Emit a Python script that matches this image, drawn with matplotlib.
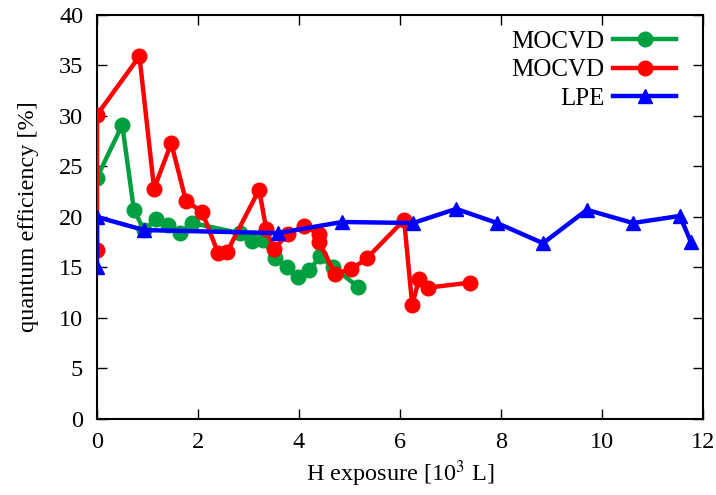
import matplotlib.pyplot as plt

plt.rcParams["font.family"] = ["Liberation Serif", "DejaVu Serif"]
plt.rcParams["mathtext.fontset"] = "stix"

# MOCVD (green)
x_green = [0.0, 0.5, 0.73, 0.93, 1.17, 1.4, 1.64, 1.88, 2.83, 3.07, 3.29,
           3.52, 3.76, 3.98, 4.2, 4.42, 4.67, 5.17]
y_green = [23.9, 29.1, 20.7, 18.7, 19.8, 19.2, 18.4, 19.4, 18.4, 17.6, 17.7,
           15.9, 15.0, 14.1, 14.7, 16.1, 15.0, 13.1]

# MOCVD (red)
x_red = [0.0, 0.0, 0.84, 1.13, 1.47, 1.76, 2.08, 2.4, 2.57, 3.21, 3.35, 3.5,
         3.78, 4.1, 4.4, 4.4, 4.71, 5.03, 5.34, 6.08, 6.24, 6.38, 6.55, 7.39]
y_red = [16.7, 30.1, 35.9, 22.8, 27.3, 21.6, 20.5, 16.4, 16.5, 22.7, 18.8, 16.8,
         18.3, 19.1, 18.3, 17.5, 14.4, 14.8, 15.9, 19.7, 11.3, 13.9, 13.0, 13.5]

# LPE (blue)
x_blue = [0.0, 0.0, 0.93, 3.58, 4.85, 6.26, 7.11, 7.92, 8.83, 9.7, 10.61,
          11.54, 11.76]
y_blue = [15.0, 20.0, 18.7, 18.4, 19.5, 19.4, 20.8, 19.4, 17.4, 20.7, 19.4,
          20.1, 17.5]

fig = plt.figure(figsize=(7.16, 4.95), dpi=100)
ax = fig.add_axes([0.1355, 0.1535, 0.8465, 0.8165])

ax.plot(x_green, y_green, color="#00a040", lw=3.2, marker="o", ms=10.5,
        label="MOCVD", zorder=3)
ax.plot(x_red, y_red, color="#ff0000", lw=3.2, marker="o", ms=10.5,
        label="MOCVD", zorder=4)
ax.plot(x_blue, y_blue, color="#0000ff", lw=3.2, marker="^", ms=10.5,
        label="LPE", zorder=5)

ax.set_xlim(0, 12)
ax.set_ylim(0, 40)
ax.set_xticks(range(0, 13, 2))
ax.set_yticks(range(0, 41, 5))
ax.tick_params(direction="in", length=7, width=1, labelsize=17.5,
               top=True, right=True)
ax.tick_params(axis="x", pad=9)
ax.tick_params(axis="y", pad=10)
for s in ax.spines.values():
    s.set_linewidth(1.5)

ax.set_xlabel(r"H exposure [10$^3$ L]", fontsize=17.5, labelpad=4)
ax.set_ylabel("quantum efficiency [%]", fontsize=17.5, labelpad=14)

ax.legend(loc="upper right", bbox_to_anchor=(0.955, 0.962), frameon=False,
          markerfirst=False, fontsize=18, handlelength=2.5,
          handletextpad=0.36, labelspacing=0.25, borderpad=0.0,
          borderaxespad=0.0)

fig.savefig("out.png", dpi=100)
